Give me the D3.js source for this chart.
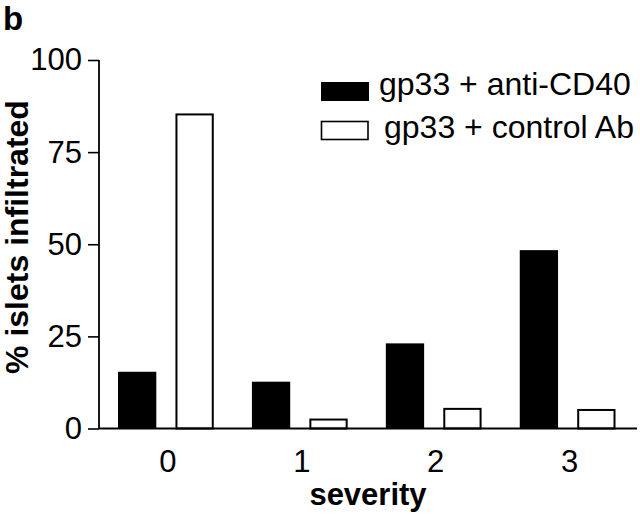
<!DOCTYPE html>
<html>
<head>
<meta charset="utf-8">
<script src="https://cdn.jsdelivr.net/npm/d3@7"></script>
<style>
  html, body { margin: 0; padding: 0; background: #fff; }
  svg { display: block; }
  text { font-family: "Liberation Sans", Arial, Helvetica, sans-serif; fill: #000; }
</style>
</head>
<body>
<script>
const categories = ["0", "1", "2", "3"];
const seriesNames = ["gp33 + anti-CD40", "gp33 + control Ab"];
const antiCD40 = [15.4, 12.7, 23.1, 48.4];
const controlAb = [85.5, 2.7, 5.6, 5.3];
const yTicks = [0, 25, 50, 75, 100];

const W = 640, H = 521;
const svg = d3.select("body").append("svg").attr("width", W).attr("height", H);

const y = d3.scaleLinear().domain([0, 100]).range([428.5, 60]);
const x0 = d3.scaleBand().domain(categories).range([118, 615.5]).paddingInner(0.285).paddingOuter(0);
const x1 = d3.scaleBand().domain(seriesNames).range([0, x0.bandwidth()]).paddingInner(1/3).paddingOuter(0);

const rows = categories.map((c, i) => ({cat: c, vals: [
  {s: seriesNames[0], v: antiCD40[i]},
  {s: seriesNames[1], v: controlAb[i]}
]}));

// bars
const g = svg.append("g");
rows.forEach(r => {
  r.vals.forEach(d => {
    const isBlack = d.s === seriesNames[0];
    const bx = x0(r.cat) + x1(d.s);
    g.append("rect")
      .attr("x", isBlack ? bx : bx + 1)
      .attr("y", y(d.v) + (isBlack ? 0 : 1))
      .attr("width", isBlack ? x1.bandwidth() : x1.bandwidth() - 2)
      .attr("height", y(0) - y(d.v) - (isBlack ? 0 : 1))
      .attr("fill", isBlack ? "#000" : "#fff")
      .attr("stroke", isBlack ? "none" : "#000")
      .attr("stroke-width", 2);
  });
});

// y axis
const yAxis = d3.axisLeft(y).tickValues(yTicks).tickSize(11).tickPadding(6).tickFormat(d3.format("d"));
const ya = svg.append("g").attr("transform", "translate(99,0)").call(yAxis);
ya.select(".domain").attr("stroke", "#000").attr("stroke-width", 1.8).attr("d", `M0,${y(100)}V${y(0)}`);
ya.selectAll(".tick line").attr("stroke", "#000").attr("stroke-width", 1.6);
ya.selectAll(".tick text").attr("font-size", 31).attr("font-family", "'Liberation Sans', Arial, sans-serif").attr("fill", "#000");

// x baseline
svg.append("line").attr("x1", 99).attr("x2", 637).attr("y1", y(0)).attr("y2", y(0))
  .attr("stroke", "#000").attr("stroke-width", 1.8);

// x tick labels (no tick marks)
const xAxis = d3.axisBottom(x0).tickSize(0).tickPadding(21);
const xa = svg.append("g").attr("transform", `translate(2,${y(0)})`).call(xAxis);
xa.select(".domain").remove();
xa.selectAll(".tick text").attr("font-size", 31).attr("font-family", "'Liberation Sans', Arial, sans-serif").attr("fill", "#000");

// axis titles
svg.append("text").attr("x", 368).attr("y", 505).attr("text-anchor", "middle")
  .attr("font-size", 31).attr("font-weight", "bold").text("severity");
svg.append("text").attr("transform", "translate(28,237) rotate(-90)").attr("text-anchor", "middle")
  .attr("font-size", 32).attr("font-weight", "bold").text("% islets infiltrated");

// panel letter
svg.append("text").attr("x", 3).attr("y", 30).attr("font-size", 33).attr("font-weight", "bold").text("b");

// legend
const legend = svg.append("g");
legend.append("rect").attr("x", 321).attr("y", 82).attr("width", 48).attr("height", 19).attr("fill", "#000");
legend.append("rect").attr("x", 321.5).attr("y", 121.5).attr("width", 46.5).attr("height", 18)
  .attr("fill", "#fff").attr("stroke", "#000").attr("stroke-width", 1.6);
legend.append("text").attr("x", 379).attr("y", 95).attr("font-size", 32).text(seriesNames[0]);
legend.append("text").attr("x", 384).attr("y", 138).attr("font-size", 32).text(seriesNames[1]);
</script>
</body>
</html>
